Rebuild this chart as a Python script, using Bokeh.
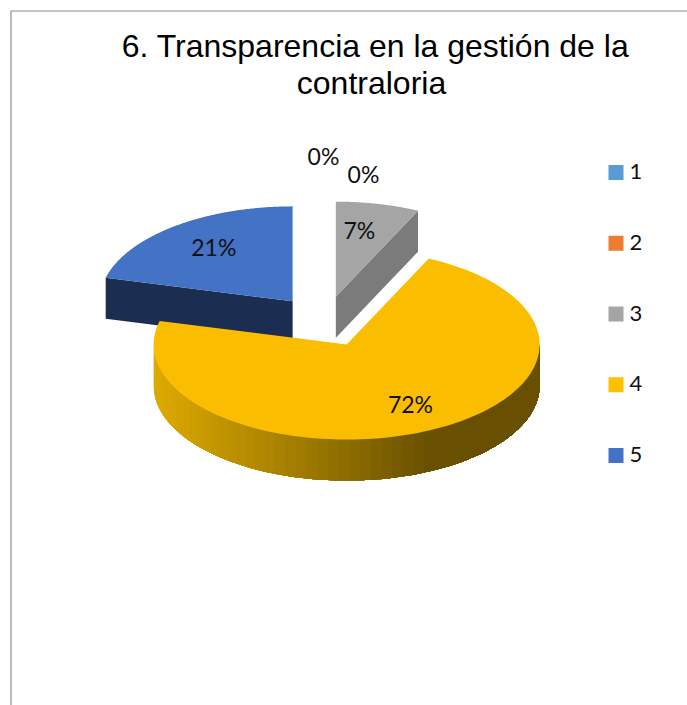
import math
from bokeh.plotting import figure
from bokeh.models import Range1d
from bokeh.core.properties import value
from bokeh.embed import file_html
from bokeh.resources import INLINE

# ---- data ----
categories = ["1", "2", "3", "4", "5"]
shares = [0, 0, 7, 72, 21]
share_labels = ["0%", "0%", "7%", "72%", "21%"]
title_lines = ["6. Transparencia en la gestión de la", "contraloria"]

# ---- styles ----
legend_colors = ["#5B9BD5", "#ED7D31", "#A5A5A5", "#FFC000", "#4472C4"]
top_colors = ["#5B9BD5", "#ED7D31", "#A5A5A5", "#FBBD00", "#4472C4"]
cut_colors = ["#2E4E6B", "#77401A", "#7B7B7B", "#6A5000", "#1B2D50"]

# ---- layout, in pixels of the picture ----
W, H = 687, 705
CX, CY = 324.0, 321.0
RX, RY = 193.0, 95.0
DEPTH = 41.0
EXPLODE = 52.0
LABEL_K = [1.46, 1.27, 0.70, 0.74, 0.70]
LABEL_NUDGE = [(-1, -1), (39, -1), (-6, -2), (3, -4), (4, -2)]

p = figure(width=W, height=H, x_range=Range1d(0, W), y_range=Range1d(H, 0),
           toolbar_location=None, output_backend="svg", min_border=0,
           outline_line_color=None, background_fill_color="white")
p.axis.visible = False
p.grid.visible = False

# chart frame
p.line([10.5, 10.5, W], [H, 10.5, 10.5], line_color="#8C8C8C", line_width=1.2)

# slice angles, clockwise from 12 o'clock
total = float(sum(shares))
starts, ends = [], []
acc = 0.0
for s in shares:
    starts.append(acc / total * 2 * math.pi)
    acc += s
    ends.append(acc / total * 2 * math.pi)


def pt(cx, cy, a, dy=0.0):
    return cx + RX * math.sin(a), cy - RY * math.cos(a) + dy


def hex_mix(c1, c2, t):
    a = [int(c1[i:i + 2], 16) for i in (1, 3, 5)]
    b = [int(c2[i:i + 2], 16) for i in (1, 3, 5)]
    return "#%02X%02X%02X" % tuple(round(u + (v - u) * t) for u, v in zip(a, b))


apexes = []
for a0, a1 in zip(starts, ends):
    mid = (a0 + a1) / 2
    apexes.append((CX + EXPLODE * math.sin(mid), CY - EXPLODE * 0.49 * math.cos(mid)))

# draw back to front: 3, 5, 4
for i in [2, 4, 3]:
    a0, a1 = starts[i], ends[i]
    ax, ay = apexes[i]
    n = 160
    arc = [a0 + (a1 - a0) * k / n for k in range(n + 1)]

    # cut faces
    if i == 2:
        ex, ey = pt(ax, ay, a1)
        p.patch([ax, ex, ex, ax], [ay, ey, ey + DEPTH, ay + DEPTH],
                fill_color=cut_colors[i], line_color=None)
    if i == 4:
        ex, ey = pt(ax, ay, a0)
        p.patch([ax, ex, ex, ax], [ay, ey, ey + DEPTH, ay + DEPTH],
                fill_color=cut_colors[i], line_color=None)

    # outer rim, painted right over left in shrinking bands so no seams show
    if i == 3:
        rim = [a for a in arc if math.pi / 2 <= a <= 3 * math.pi / 2 + 0.01]
        rim = rim[::-1]  # from the left end to the right end
        for k in range(0, len(rim) - 1, 2):
            part = rim[k:]
            top = [pt(ax, ay, a) for a in part]
            xs = [q[0] for q in top] + [q[0] for q in top[::-1]]
            ys = [q[1] for q in top] + [q[1] + DEPTH for q in top[::-1]]
            t = min(1.0, max(0.0, (top[0][0] - (ax - RX)) / (RX * 1.4)))
            p.patch(xs, ys, fill_color=hex_mix("#DCAA00", "#695000", t), line_color=None)

    # top face
    pts = [pt(ax, ay, a) for a in arc]
    p.patch([ax] + [q[0] for q in pts], [ay] + [q[1] for q in pts],
            fill_color=top_colors[i], line_color=None)

# data labels
lx, ly = [], []
for i, (a0, a1) in enumerate(zip(starts, ends)):
    mid = (a0 + a1) / 2
    ax, ay = apexes[i]
    lx.append(ax + LABEL_K[i] * RX * math.sin(mid) + LABEL_NUDGE[i][0])
    ly.append(ay - LABEL_K[i] * RY * math.cos(mid) + LABEL_NUDGE[i][1])
p.text(lx, ly, text=share_labels, text_font=value("Lato"), text_font_size="23px",
       text_color="#111111", text_align="center", text_baseline="middle")

# legend
LEG_Y = [172 + 70.75 * k for k in range(len(categories))]
p.rect([615.5] * len(categories), LEG_Y, width=15, height=15,
       fill_color=legend_colors, line_color=None)
p.text([629] * len(categories), [y - 1 for y in LEG_Y], text=categories, text_font=value("Lato"),
       text_font_size="22px", text_color="#111111", text_align="left", text_baseline="middle")

# title
p.text([375, 371], [45, 82], text=title_lines, text_font=value("Liberation Sans"),
       text_font_size="32px", text_color="#000000", text_align="center", text_baseline="middle")

open("out.html", "w").write(file_html(p, INLINE))
